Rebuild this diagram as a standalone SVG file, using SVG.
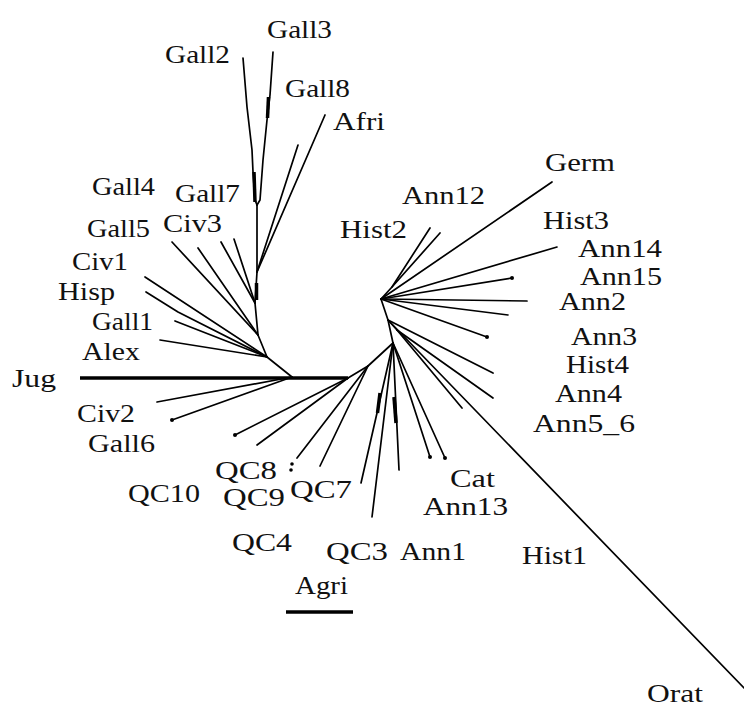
<svg xmlns="http://www.w3.org/2000/svg" width="744" height="706" viewBox="0 0 744 706">
  <style>
    .br { fill: none; stroke: #000; stroke-width: 1.7; stroke-linejoin: round; stroke-linecap: round; }
    .thick { fill: none; stroke: #000; stroke-width: 3.5; stroke-linecap: butt; }
    .dot { fill: #000; }
    .lbl { font-family: "Liberation Serif", "Times New Roman", serif; font-size: 25px; fill: #111; }
  </style>
  <rect width="744" height="706" fill="#fff"/>

  <g id="connectors">
    <!-- main trunk -->
    <path class="thick" d="M80,378 H348"/>

    <!-- left cluster -->
    <path class="br" d="M292,377 L157,402"/>
    <path class="br" d="M292,377 L172,420"/>
    <path class="br" d="M292,377 L267,357"/>
    <path class="br" d="M267,357 L160,340"/>
    <path class="br" d="M267,357 L175,321"/>
    <path class="br" d="M267,357 L178,312 L146,292"/>
    <path class="br" d="M267,357 L145,277"/>
    <path class="br" d="M267,357 L258,335"/>
    <path class="br" d="M258,335 L172,242"/>
    <path class="br" d="M258,335 L198,248"/>
    <path class="br" d="M258,335 L255,303"/>
    <path class="br" d="M255,303 L221,242"/>
    <path class="br" d="M255,303 L234,239"/>
    <path class="br" d="M255,303 L257,272 L257,205"/>
    <path class="br" d="M257,272 L298,145"/>
    <path class="br" d="M257,272 L325,115"/>
    <path class="br" d="M257,205 L255,200 L253,172 L252,150 L247,107 L243,58"/>
    <path class="br" d="M257,205 L260,200 L263,160 L267,120 L270,95 L273,52"/>
    <path class="thick" d="M254,172 L255,202"/>
    <path class="thick" d="M268.5,97 L267.5,118"/>
    <path class="thick" d="M256.5,283 L256.5,300"/>

    <!-- right cluster: link to lower node -->
    <path class="br" d="M348,378 L368,366 L393,343"/>
    <path class="br" d="M348,378 L235,435"/>
    <path class="br" d="M348,378 L257,445"/>
    <path class="br" d="M368,366 L297,458"/>
    <path class="br" d="M368,366 L320,466"/>
    <path class="br" d="M393,343 L361,483"/>
    <path class="br" d="M393,343 L372,517"/>
    <path class="br" d="M393,343 L399,470"/>
    <path class="br" d="M393,343 L430,457"/>
    <path class="br" d="M393,343 L445,458"/>
    <path class="thick" d="M380,393 L377.5,413"/>
    <path class="thick" d="M394,397 L396,423"/>

    <!-- upper right node -->
    <path class="br" d="M393,343 L388,320 L381,299"/>
    <path class="br" d="M388,320 L744,688"/>
    <path class="br" d="M388,320 L397,330"/>
    <path class="br" d="M388,320 L493,373"/>
    <path class="br" d="M397,330 L493,398"/>
    <path class="br" d="M397,330 L462,408"/>
    <path class="br" d="M381,299 L392,287 L430,228"/>
    <path class="br" d="M392,287 L440,233"/>
    <path class="br" d="M381,299 L552,182"/>
    <path class="br" d="M381,299 L557,247"/>
    <path class="br" d="M381,299 L512,278"/>
    <path class="br" d="M381,299 L527,301"/>
    <path class="br" d="M381,299 L508,315"/>
    <path class="br" d="M381,299 L487,337"/>

    <!-- tip marks -->
    <circle class="dot" cx="235" cy="435" r="2"/>
    <circle class="dot" cx="172" cy="420" r="2"/>
    <circle class="dot" cx="292" cy="464" r="1.8"/>
    <circle class="dot" cx="291" cy="470" r="1.8"/>
    <circle class="dot" cx="512" cy="278" r="2"/>
    <circle class="dot" cx="430" cy="457" r="2"/>
    <circle class="dot" cx="445" cy="458" r="2"/>
    <circle class="dot" cx="487" cy="337" r="2"/>

    <!-- Agri underline -->
    <path class="thick" d="M286,612 H353"/>
  </g>

  <g id="n-Gall3"><text class="lbl" x="267" y="38" textLength="65" lengthAdjust="spacingAndGlyphs">Gall3</text></g>
  <g id="n-Gall2"><text class="lbl" x="165" y="63" textLength="65" lengthAdjust="spacingAndGlyphs">Gall2</text></g>
  <g id="n-Gall8"><text class="lbl" x="285" y="97" textLength="65" lengthAdjust="spacingAndGlyphs">Gall8</text></g>
  <g id="n-Afri"><text class="lbl" x="333" y="130" textLength="52" lengthAdjust="spacingAndGlyphs">Afri</text></g>
  <g id="n-Gall4"><text class="lbl" x="92" y="195" textLength="63" lengthAdjust="spacingAndGlyphs">Gall4</text></g>
  <g id="n-Gall7"><text class="lbl" x="175" y="202" textLength="65" lengthAdjust="spacingAndGlyphs">Gall7</text></g>
  <g id="n-Gall5"><text class="lbl" x="87" y="237" textLength="63" lengthAdjust="spacingAndGlyphs">Gall5</text></g>
  <g id="n-Civ3"><text class="lbl" x="163" y="232" textLength="59" lengthAdjust="spacingAndGlyphs">Civ3</text></g>
  <g id="n-Civ1"><text class="lbl" x="72" y="270" textLength="56" lengthAdjust="spacingAndGlyphs">Civ1</text></g>
  <g id="n-Hisp"><text class="lbl" x="58" y="300" textLength="57" lengthAdjust="spacingAndGlyphs">Hisp</text></g>
  <g id="n-Gall1"><text class="lbl" x="92" y="330" textLength="61" lengthAdjust="spacingAndGlyphs">Gall1</text></g>
  <g id="n-Alex"><text class="lbl" x="82" y="360" textLength="58" lengthAdjust="spacingAndGlyphs">Alex</text></g>
  <g id="n-Jug"><text class="lbl" x="12" y="387" textLength="44" lengthAdjust="spacingAndGlyphs">Jug</text></g>
  <g id="n-Civ2"><text class="lbl" x="77" y="422" textLength="58" lengthAdjust="spacingAndGlyphs">Civ2</text></g>
  <g id="n-Gall6"><text class="lbl" x="88" y="452" textLength="67" lengthAdjust="spacingAndGlyphs">Gall6</text></g>
  <g id="n-QC8"><text class="lbl" x="215" y="479" textLength="62" lengthAdjust="spacingAndGlyphs">QC8</text></g>
  <g id="n-QC10"><text class="lbl" x="128" y="502" textLength="72" lengthAdjust="spacingAndGlyphs">QC10</text></g>
  <g id="n-QC9"><text class="lbl" x="223" y="506" textLength="62" lengthAdjust="spacingAndGlyphs">QC9</text></g>
  <g id="n-QC7"><text class="lbl" x="290" y="498" textLength="62" lengthAdjust="spacingAndGlyphs">QC7</text></g>
  <g id="n-QC4"><text class="lbl" x="232" y="551" textLength="60" lengthAdjust="spacingAndGlyphs">QC4</text></g>
  <g id="n-QC3"><text class="lbl" x="326" y="560" textLength="62" lengthAdjust="spacingAndGlyphs">QC3</text></g>
  <g id="n-Ann1"><text class="lbl" x="400" y="560" textLength="66" lengthAdjust="spacingAndGlyphs">Ann1</text></g>
  <g id="n-Agri"><text class="lbl" x="295" y="594" textLength="53" lengthAdjust="spacingAndGlyphs">Agri</text></g>
  <g id="n-Cat"><text class="lbl" x="450" y="487" textLength="45" lengthAdjust="spacingAndGlyphs">Cat</text></g>
  <g id="n-Ann13"><text class="lbl" x="423" y="515" textLength="85" lengthAdjust="spacingAndGlyphs">Ann13</text></g>
  <g id="n-Hist1"><text class="lbl" x="522" y="564" textLength="65" lengthAdjust="spacingAndGlyphs">Hist1</text></g>
  <g id="n-Orat"><text class="lbl" x="647" y="702" textLength="56" lengthAdjust="spacingAndGlyphs">Orat</text></g>
  <g id="n-Germ"><text class="lbl" x="545" y="171" textLength="70" lengthAdjust="spacingAndGlyphs">Germ</text></g>
  <g id="n-Ann12"><text class="lbl" x="402" y="204" textLength="83" lengthAdjust="spacingAndGlyphs">Ann12</text></g>
  <g id="n-Hist2"><text class="lbl" x="340" y="238" textLength="67" lengthAdjust="spacingAndGlyphs">Hist2</text></g>
  <g id="n-Hist3"><text class="lbl" x="543" y="229" textLength="66" lengthAdjust="spacingAndGlyphs">Hist3</text></g>
  <g id="n-Ann14"><text class="lbl" x="578" y="257" textLength="84" lengthAdjust="spacingAndGlyphs">Ann14</text></g>
  <g id="n-Ann15"><text class="lbl" x="580" y="285" textLength="82" lengthAdjust="spacingAndGlyphs">Ann15</text></g>
  <g id="n-Ann2"><text class="lbl" x="559" y="310" textLength="67" lengthAdjust="spacingAndGlyphs">Ann2</text></g>
  <g id="n-Ann3"><text class="lbl" x="571" y="345" textLength="66" lengthAdjust="spacingAndGlyphs">Ann3</text></g>
  <g id="n-Hist4"><text class="lbl" x="566" y="373" textLength="63" lengthAdjust="spacingAndGlyphs">Hist4</text></g>
  <g id="n-Ann4"><text class="lbl" x="555" y="402" textLength="67" lengthAdjust="spacingAndGlyphs">Ann4</text></g>
  <g id="n-Ann5_6"><text class="lbl" x="533" y="432" textLength="102" lengthAdjust="spacingAndGlyphs">Ann5_6</text></g>
</svg>
